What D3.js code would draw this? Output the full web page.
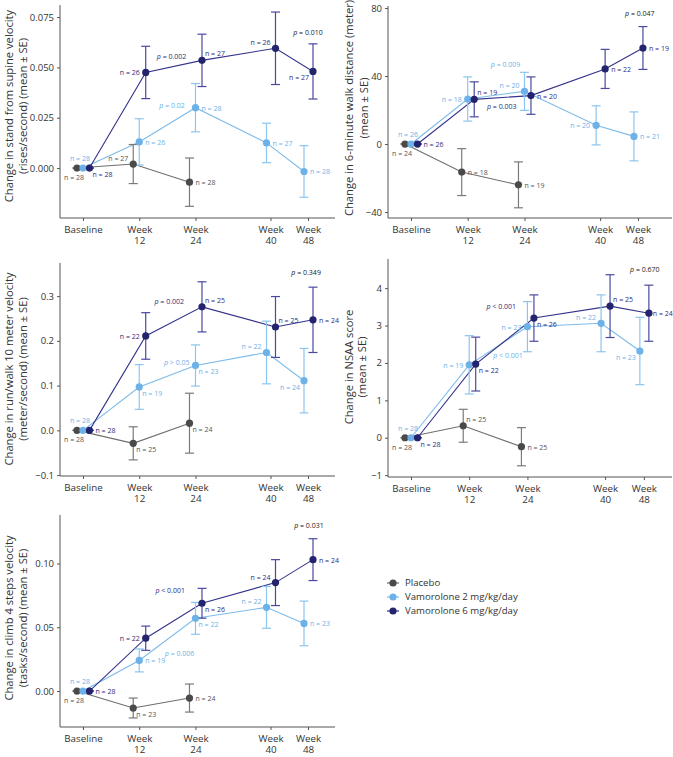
<!DOCTYPE html>
<html><head><meta charset="utf-8">
<script src="https://cdn.jsdelivr.net/npm/d3@7"></script>
<style>
body{margin:0;background:#fff;}
text{font-family:"Open Sans",sans-serif;}
</style>
</head><body>
<svg id="chart" width="673" height="757"></svg>
<script>
// ---------------- DATA ----------------
const weeks = [0, 12, 24, 40, 48];
const tickLabels = [["Baseline"], ["Week", "12"], ["Week", "24"], ["Week", "40"], ["Week", "48"]];
const groups = ["Placebo", "Vamorolone 2 mg/kg/day", "Vamorolone 6 mg/kg/day"];

// Stand from supine velocity
const standTicks = [0, 0.025, 0.05, 0.075];
const standPlaceboMean = [0, 0.002, -0.007, null, null];
const standPlaceboSE   = [0, 0.0097, 0.012, null, null];
const standPlaceboN    = [28, 27, 28, null, null];
const standVam2Mean    = [0, 0.013, 0.030, 0.0125, -0.0017];
const standVam2SE      = [0, 0.0115, 0.012, 0.0098, 0.0128];
const standVam2N       = [28, 26, 28, 27, 28];
const standVam6Mean    = [0, 0.0475, 0.0535, 0.0595, 0.048];
const standVam6SE      = [0, 0.013, 0.013, 0.018, 0.0137];
const standVam6N       = [28, 26, 27, 26, 27];
const standPText       = ["p = 0.002", "p = 0.02", "p = 0.010"];
const standPGroup      = [2, 1, -1];

// 6-minute walk distance
const walkTicks = [-40, 0, 40, 80];
const walkPlaceboMean = [0, -16.5, -24, null, null];
const walkPlaceboSE   = [0, 13.8, 13.5, null, null];
const walkPlaceboN    = [24, 18, 19, null, null];
const walkVam2Mean    = [0, 26.5, 31, 11, 4.5];
const walkVam2SE      = [0, 13, 11.2, 11.5, 14.4];
const walkVam2N       = [26, 18, 20, 20, 21];
const walkVam6Mean    = [0, 26.3, 28.5, 44.2, 56.5];
const walkVam6SE      = [0, 10.3, 11, 11.5, 12.6];
const walkVam6N       = [26, 19, 20, 22, 19];
const walkPText       = ["p = 0.009", "p = 0.003", "p = 0.047"];
const walkPGroup      = [1, 2, -1];

// Run/walk 10 meter velocity
const runTicks = [-0.1, 0, 0.1, 0.2, 0.3];
const runPlaceboMean = [0, -0.029, 0.016, null, null];
const runPlaceboSE   = [0, 0.037, 0.067, null, null];
const runPlaceboN    = [28, 25, 24, null, null];
const runVam2Mean    = [0, 0.097, 0.145, 0.174, 0.111];
const runVam2SE      = [0, 0.050, 0.046, 0.070, 0.072];
const runVam2N       = [28, 19, 23, 22, 24];
const runVam6Mean    = [0, 0.211, 0.276, 0.231, 0.247];
const runVam6SE      = [0, 0.052, 0.056, 0.068, 0.073];
const runVam6N       = [28, 22, 25, 25, 24];
const runPText       = ["p = 0.002", "p > 0.05", "p = 0.349"];
const runPGroup      = [2, 1, -1];

// NSAA score
const nsaaTicks = [-1, 0, 1, 2, 3, 4];
const nsaaPlaceboMean = [0, 0.32, -0.24, null, null];
const nsaaPlaceboSE   = [0, 0.44, 0.51, null, null];
const nsaaPlaceboN    = [28, 25, 25, null, null];
const nsaaVam2Mean    = [0, 1.95, 2.97, 3.06, 2.32];
const nsaaVam2SE      = [0, 0.78, 0.67, 0.76, 0.90];
const nsaaVam2N       = [28, 19, 23, 22, 23];
const nsaaVam6Mean    = [0, 1.97, 3.2, 3.52, 3.33];
const nsaaVam6SE      = [0, 0.72, 0.62, 0.84, 0.75];
const nsaaVam6N       = [28, 22, 26, 25, 24];
const nsaaPText       = ["p < 0.001", "p < 0.001", "p = 0.670"];
const nsaaPGroup      = [2, 1, -1];

// Climb 4 steps velocity
const climbTicks = [0, 0.05, 0.10];
const climbPlaceboMean = [0, -0.0133, -0.0055, null, null];
const climbPlaceboSE   = [0, 0.0078, 0.011, null, null];
const climbPlaceboN    = [28, 23, 24, null, null];
const climbVam2Mean    = [0, 0.024, 0.057, 0.0656, 0.053];
const climbVam2SE      = [0, 0.009, 0.0125, 0.0164, 0.0175];
const climbVam2N       = [28, 19, 22, 22, 23];
const climbVam6Mean    = [0, 0.0414, 0.0688, 0.085, 0.103];
const climbVam6SE      = [0, 0.0095, 0.0117, 0.018, 0.0164];
const climbVam6N       = [28, 22, 26, 24, 24];
const climbPText       = ["p < 0.001", "p = 0.006", "p = 0.031"];
const climbPGroup      = [2, 1, -1];

// ---------------- STYLE / LAYOUT ----------------
const pointColor = ["#4a4a4a", "#6cb2e8", "#23236e"];
const lineColor  = ["#6e6e6e", "#7dbbea", "#34338a"];
const barColor   = ["#7a7a7a", "#8cc5ef", "#4a49a0"];
const labelColor = ["#555555", "#6cb2e8", "#2c2c7c"];
const pBlack = "#222222";

// label placement codes: [anchor, dx, dy]
const place = {
  r:  ["start", 6, 3], r2: ["start", 4, 3], l: ["end", -6, 3],
  ur: ["start", 3, -4], ul: ["end", -5, -3],
  br: ["start", 3, 9], bl: ["end", -4, 9],
  a:  ["middle", -3, -7], bl0: ["end", 7, 12]
};

const panels = [
  { title: ["Change in stand from supine velocity", "(rises/second) (mean ± SE)"],
    means: [standPlaceboMean, standVam2Mean, standVam6Mean],
    ses: [standPlaceboSE, standVam2SE, standVam6SE],
    ns: [standPlaceboN, standVam2N, standVam6N],
    pText: standPText, pGroup: standPGroup, ticks: standTicks, fmt: ".3f",
    left: 60, right: 335, top: 5, bottom: 218,
    xDomain: [-4.9, 53.76], yDomain: [-0.0248, 0.081],
    titleX: [13, 27], titleY: 106,
    lab: [["bl0", "ul", "r"], ["a", "r", "r", "r", "r"], ["br", "l", "ur", "ul", "bl"]],
    pPos: [[18.9, 0.0555], [19, 0.031], [48, 0.0675]] },
  { title: ["Change in 6-minute walk distance (meter)", "(mean ± SE)"],
    means: [walkPlaceboMean, walkVam2Mean, walkVam6Mean],
    ses: [walkPlaceboSE, walkVam2SE, walkVam6SE],
    ns: [walkPlaceboN, walkVam2N, walkVam6N],
    pText: walkPText, pGroup: walkPGroup, ticks: walkTicks, fmt: "d",
    left: 388, right: 672, top: 6, bottom: 218,
    xDomain: [-4.86, 55.2], yDomain: [-43.5, 81.2],
    titleX: [353, 368], titleY: 108,
    lab: [["bl0", "r", "r"], ["a", "l", "ul", "l", "r"], ["r", "ur", "r", "r", "r"]],
    pPos: [[20, 47], [19.2, 22.3], [48.4, 76.5]] },
  { title: ["Change in run/walk 10 meter velocity", "(meter/second) (mean ± SE)"],
    means: [runPlaceboMean, runVam2Mean, runVam6Mean],
    ses: [runPlaceboSE, runVam2SE, runVam6SE],
    ns: [runPlaceboN, runVam2N, runVam6N],
    pText: runPText, pGroup: runPGroup, ticks: runTicks, fmt: ".1f",
    left: 60, right: 335, top: 263, bottom: 476,
    xDomain: [-4.9, 53.76], yDomain: [-0.102, 0.374],
    titleX: [13, 27], titleY: 369,
    lab: [["bl0", "br", "br"], ["a", "br", "br", "ul", "bl"], ["r", "l", "ur", "ur", "r"]],
    pPos: [[18.4, 0.287], [20, 0.151], [47.6, 0.352]] },
  { title: ["Change in NSAA score", "(mean ± SE)"],
    means: [nsaaPlaceboMean, nsaaVam2Mean, nsaaVam6Mean],
    ses: [nsaaPlaceboSE, nsaaVam2SE, nsaaVam6SE],
    ns: [nsaaPlaceboN, nsaaVam2N, nsaaVam6N],
    pText: nsaaPText, pGroup: nsaaPGroup, ticks: nsaaTicks, fmt: "d",
    left: 388, right: 672, top: 259, bottom: 477,
    xDomain: [-4.74, 53.8], yDomain: [-1.05, 4.78],
    titleX: [353, 366], titleY: 367,
    lab: [["bl0", "ur", "r"], ["a", "l", "l", "ul", "bl"], ["br", "br", "br", "ur", "r2"]],
    pPos: [[18.6, 3.5], [20, 2.2], [48.2, 4.5]] },
  { title: ["Change in climb 4 steps velocity", "(tasks/second) (mean ± SE)"],
    means: [climbPlaceboMean, climbVam2Mean, climbVam6Mean],
    ses: [climbPlaceboSE, climbVam2SE, climbVam6SE],
    ns: [climbPlaceboN, climbVam2N, climbVam6N],
    pText: climbPText, pGroup: climbPGroup, ticks: climbTicks, fmt: ".2f",
    left: 60, right: 335, top: 515, bottom: 727,
    xDomain: [-4.9, 53.76], yDomain: [-0.0282, 0.138],
    titleX: [13, 27], titleY: 618,
    lab: [["bl0", "br", "r"], ["a", "r", "br", "ul", "r"], ["r", "l", "br", "ul", "r"]],
    pPos: [[18.6, 0.079], [20.6, 0.029], [48.2, 0.130]] }
];

// dodge in px: early weeks have three groups, later weeks two
function dodge(g, wi) {
  return weeks[wi] <= 24 ? [-6, 0, 6.5][g] : [0, -4, 5][g];
}

const svg = d3.select("#chart");

panels.forEach(p => {
  const x = d3.scaleLinear().domain(p.xDomain).range([p.left, p.right]);
  const y = d3.scaleLinear().domain(p.yDomain).range([p.bottom, p.top]);
  const g = svg.append("g");

  // y axis
  const ya = g.append("g").attr("transform", `translate(${p.left},0)`)
    .call(d3.axisLeft(y).tickValues(p.ticks).tickFormat(d3.format(p.fmt)).tickSize(3).tickSizeOuter(0));
  ya.select(".domain").attr("d", `M0,${p.top}V${p.bottom}`).attr("stroke", "#555");
  ya.selectAll(".tick line").attr("stroke", "#555");
  ya.selectAll(".tick text").attr("font-size", 9.5).attr("fill", "#333").attr("font-family", "Open Sans");

  // x axis
  const xa = g.append("g").attr("transform", `translate(0,${p.bottom})`)
    .call(d3.axisBottom(x).tickValues(weeks).tickSize(3).tickSizeOuter(0));
  xa.select(".domain").attr("d", `M${p.left},0H${p.right}`).attr("stroke", "#555");
  xa.selectAll(".tick line").attr("stroke", "#555");
  xa.selectAll(".tick text").remove();
  xa.selectAll(".tick").each(function (d, i) {
    const tk = d3.select(this);
    tickLabels[i].forEach((s, k) => tk.append("text").attr("x", 0).attr("y", 14.5 + k * 11.5)
      .attr("fill", "#333").attr("font-size", 9.8).attr("text-anchor", "middle")
      .attr("font-family", "Open Sans").text(s));
  });

  // y title
  p.title.forEach((s, k) => {
    g.append("text").attr("transform", `translate(${p.titleX[k]},${p.titleY}) rotate(-90)`)
      .attr("text-anchor", "middle").attr("font-size", 11.2).attr("fill", "#333").text(s);
  });

  // series
  const series = [0, 1, 2].map(gi => weeks.map((w, wi) => ({
    g: gi, wi, w, m: p.means[gi][wi], se: p.ses[gi][wi], n: p.ns[gi][wi]
  })).filter(d => d.m !== null));

  const px = d => x(d.w) + dodge(d.g, d.wi);
  const line = d3.line().x(px).y(d => y(d.m));

  series.forEach((s, gi) => {
    g.append("path").attr("d", line(s)).attr("fill", "none")
      .attr("stroke", lineColor[gi]).attr("stroke-width", 1.1);
  });
  series.forEach((s, gi) => {
    const eb = g.append("g").attr("stroke", barColor[gi]).attr("stroke-width", 1.2).attr("fill", "none");
    s.forEach(d => {
      const cx = px(d), y1 = y(d.m + d.se), y2 = y(d.m - d.se);
      eb.append("line").attr("x1", cx).attr("x2", cx).attr("y1", y1).attr("y2", y2);
      eb.append("line").attr("x1", cx - 4.5).attr("x2", cx + 4.5).attr("y1", y1).attr("y2", y1);
      eb.append("line").attr("x1", cx - 4.5).attr("x2", cx + 4.5).attr("y1", y2).attr("y2", y2);
    });
  });
  series.forEach((s, gi) => {
    g.selectAll(null).data(s).enter().append("circle")
      .attr("cx", px).attr("cy", d => y(d.m)).attr("r", 3.6).attr("fill", pointColor[gi]);
  });
  // n labels
  series.forEach((s, gi) => {
    s.forEach((d, k) => {
      const pl = place[p.lab[gi][k]];
      g.append("text").attr("x", px(d) + pl[1]).attr("y", y(d.m) + pl[2])
        .attr("text-anchor", pl[0]).attr("font-size", 7).attr("fill", labelColor[gi])
        .text(`n = ${d.n}`);
    });
  });
  // p labels
  p.pText.forEach((s, k) => {
    const col = p.pGroup[k] < 0 ? pBlack : labelColor[p.pGroup[k]];
    const t = g.append("text").attr("x", x(p.pPos[k][0])).attr("y", y(p.pPos[k][1]))
      .attr("dy", "0.35em").attr("text-anchor", "middle").attr("font-size", 7).attr("fill", col);
    t.append("tspan").attr("font-style", "italic").text(s.charAt(0));
    t.append("tspan").text(s.slice(1));
  });
});

// legend
const leg = svg.append("g");
groups.forEach((name, i) => {
  const cy = 583 + i * 14;
  leg.append("line").attr("x1", 387).attr("x2", 399).attr("y1", cy).attr("y2", cy)
    .attr("stroke", lineColor[i]).attr("stroke-width", 1.2);
  leg.append("circle").attr("cx", 393).attr("cy", cy).attr("r", 3.6).attr("fill", pointColor[i]);
  leg.append("text").attr("x", 405).attr("y", cy).attr("dy", "0.35em")
    .attr("font-size", 9.6).attr("fill", "#333").text(name);
});
</script>
</body></html>
